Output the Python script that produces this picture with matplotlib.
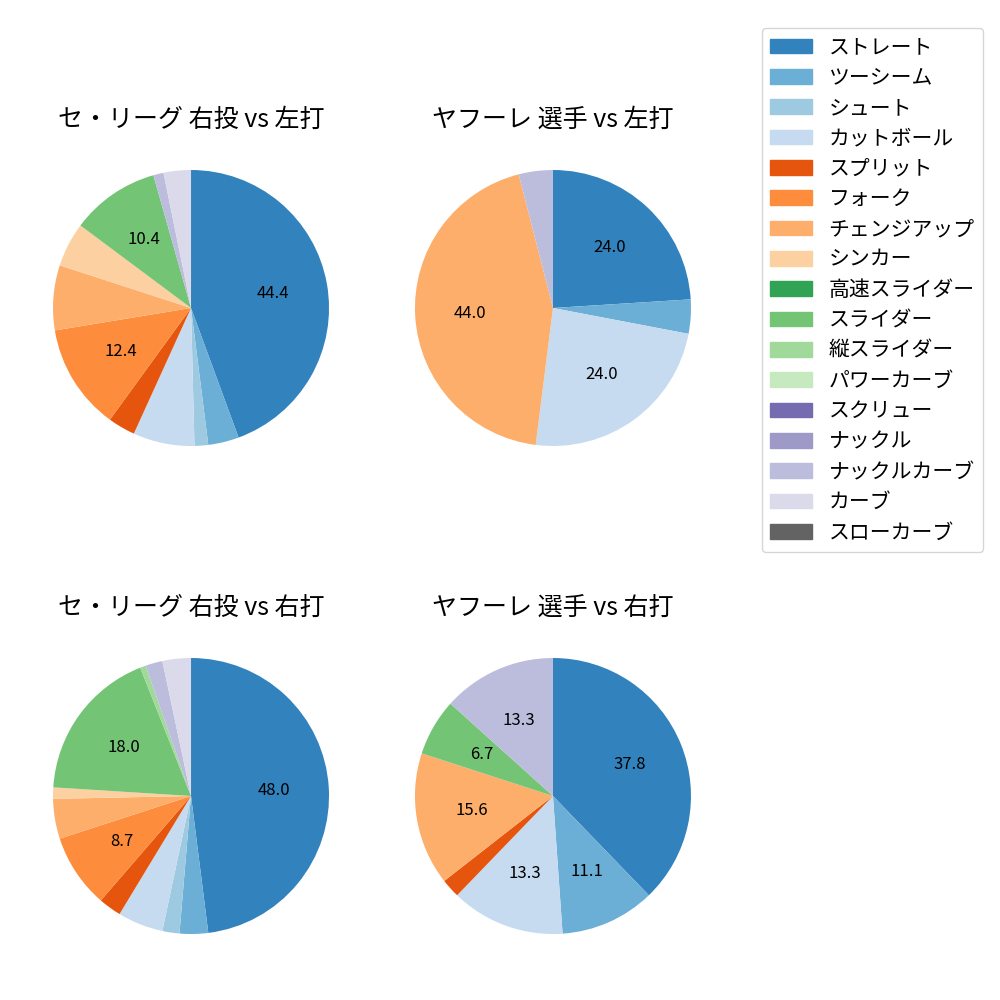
import matplotlib
matplotlib.use("Agg")
import matplotlib.pyplot as plt
from matplotlib.patches import Patch

plt.rcParams['font.family'] = ['Noto Sans CJK JP', 'DejaVu Sans']

# pitch types (legend order)
pitch_types = ["ストレート", "ツーシーム", "シュート", "カットボール", "スプリット",
               "フォーク", "チェンジアップ", "シンカー", "高速スライダー", "スライダー",
               "縦スライダー", "パワーカーブ", "スクリュー", "ナックル", "ナックルカーブ",
               "カーブ", "スローカーブ"]

# pitch counts per panel, same order as pitch_types
league_vs_left = [111, 9, 4, 18, 8, 31, 19, 13, 0, 26, 0, 0, 0, 0, 3, 8, 0]
player_vs_left = [6, 1, 0, 6, 0, 0, 11, 0, 0, 0, 0, 0, 0, 0, 1, 0, 0]
league_vs_right = [72, 5, 3, 8, 4, 13, 7, 2, 0, 27, 1, 0, 0, 0, 3, 5, 0]
player_vs_right = [17, 5, 0, 6, 1, 0, 7, 0, 0, 3, 0, 0, 0, 0, 6, 0, 0]

titles = ["セ・リーグ 右投 vs 左打", "ヤフーレ 選手 vs 左打",
          "セ・リーグ 右投 vs 右打", "ヤフーレ 選手 vs 右打"]
panels = [league_vs_left, player_vs_left, league_vs_right, player_vs_right]
# smallest percentage that gets a label in each panel
label_min = [10.0, 10.0, 8.0, 5.0]

cmap = plt.get_cmap('tab20c')
colors = [cmap(i) for i in range(len(pitch_types))]

fig, axes = plt.subplots(2, 2, figsize=(10, 10), dpi=100)
fig.subplots_adjust(left=0.0185, right=0.7255, bottom=0.0315, top=0.8645,
                    wspace=0.049, hspace=0.4145)

for ax, counts, title, lim in zip(axes.flat, panels, titles, label_min):
    vals = [c for c in counts if c > 0]
    cols = [colors[i] for i, c in enumerate(counts) if c > 0]

    def fmt(p, lim=lim):
        return f"{p:.1f}" if p >= lim else ""

    ax.pie(vals, colors=cols, startangle=90, counterclock=False,
           autopct=fmt, textprops={'fontsize': 12})
    ax.set_title(title, fontsize=18)

handles = [Patch(color=c, label=n) for c, n in zip(colors, pitch_types)]
fig.legend(handles=handles, loc='upper right', bbox_to_anchor=(0.983, 0.972),
           borderaxespad=0, fontsize=15, labelspacing=0.4)

fig.savefig("out.png")
